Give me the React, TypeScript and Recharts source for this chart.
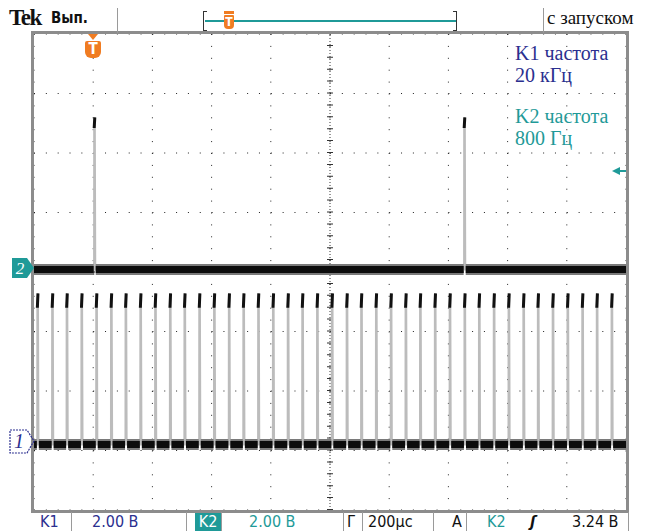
import React from 'react';
import { LineChart, Line, XAxis, YAxis, CartesianGrid, ReferenceLine } from 'recharts';

// time axis in µs (200 µs/div, trigger at 0), vertical axis in divisions
const timeTicks = [-200, 0, 200, 400, 600, 800, 1000, 1200, 1400, 1600, 1800];
const divTicks = [-4, -3, -2, -1, 0, 1, 2, 3, 4];

// K1: 20 kHz pulse train, rising edges (µs)
const ch1Pulses = [
  -189, -139, -90, -40, 10, 60, 109, 159, 209, 259, 308, 358, 408, 458, 507, 557, 607, 657, 706, 756,
  806, 856, 905, 955, 1005, 1055, 1104, 1154, 1204, 1254, 1303, 1353, 1403, 1453, 1502, 1552, 1602, 1652, 1701, 1751,
];
// levels in divisions: [baseline, head start, top]
const ch1Levels = [-2.9, -0.6, -0.36];

// K2: 800 Hz pulses
const ch2Pulses = [3, 1253];
const ch2Levels = [0.04, 2.42, 2.6];

const NAVY = '#2b2f8f';
const TEAL = '#1f9a98';
const ORANGE = '#f07c22';

type Pt = { t: number; v: number | null };

const minorTicks = (from: number, to: number, step: number) => {
  const out: number[] = [];
  for (let x = from; x <= to + 1e-6; x += step) out.push(Math.round(x * 100) / 100);
  return out;
};

const trace = (pulses: number[], lv: number[], w: number): Pt[] => {
  const pts: Pt[] = [{ t: -200, v: lv[0] }];
  pulses.forEach((p) => {
    pts.push({ t: p, v: lv[0] }, { t: p + 0.3, v: lv[1] }, { t: p + w * 0.6, v: lv[2] }, { t: p + w, v: lv[0] });
  });
  pts.push({ t: 1800, v: lv[0] });
  return pts;
};

const band = (pulses: number[], lv: number[], w: number): Pt[] => {
  const pts: Pt[] = [];
  let start = -200;
  pulses.forEach((p) => {
    if (p - 1.5 > start) pts.push({ t: start, v: lv[0] }, { t: p - 1.5, v: lv[0] });
    pts.push({ t: p, v: null });
    start = p + w + 1.5;
  });
  pts.push({ t: start, v: lv[0] }, { t: 1800, v: lv[0] });
  return pts;
};

const heads = (pulses: number[], lv: number[], w: number): Pt[] => {
  const pts: Pt[] = [];
  pulses.forEach((p) => {
    pts.push({ t: p + 0.3, v: lv[1] }, { t: p + w * 0.6, v: lv[2] }, { t: p + w * 0.6 + 0.1, v: null });
  });
  return pts;
};

const abs = (s: React.CSSProperties): React.CSSProperties => ({ position: 'absolute', ...s });
const sans = '"DejaVu Sans Condensed", "DejaVu Sans", sans-serif';
const serif = '"Liberation Serif", serif';

const Sep = ({ x, y, h }: { x: number; y: number; h: number }) => (
  <div style={abs({ left: x, top: y, width: 1, height: h, background: '#9a9a9a' })} />
);

const NoLabel = () => <g />;

export default function App() {
  const xt = minorTicks(-200, 1800, 40);
  const yt = minorTicks(-4, 4, 0.2);
  const line = { dot: false, activeDot: false, isAnimationActive: false, type: 'linear' as const, dataKey: 'v', legendType: 'none' as const };
  const ruler = { mirror: true, axisLine: false, tick: NoLabel, interval: 0 as const, tickLine: { stroke: '#333' } };
  return (
    <div style={abs({ left: 0, top: 0, width: 649, height: 531, background: '#fff', overflow: 'hidden' })}>
      <LineChart width={649} height={531} margin={{ top: 34, left: 34, right: 23, bottom: 21 }}>
        <XAxis {...ruler} dataKey="t" type="number" domain={[-200, 1800]} ticks={timeTicks} allowDataOverflow height={0} tickSize={6} />
        <XAxis {...ruler} xAxisId="rb" dataKey="t" type="number" domain={[-200, 1800]} ticks={xt} height={0} tickSize={4} />
        <XAxis {...ruler} xAxisId="rt" dataKey="t" orientation="top" type="number" domain={[-200, 1800]} ticks={xt} height={0} tickSize={4} />
        <YAxis {...ruler} type="number" domain={[-4, 4]} ticks={divTicks} allowDataOverflow width={0} tickSize={6} />
        <YAxis {...ruler} yAxisId="rl" type="number" domain={[-4, 4]} ticks={yt} width={0} tickSize={4} />
        <YAxis {...ruler} yAxisId="rr" orientation="right" type="number" domain={[-4, 4]} ticks={yt} width={0} tickSize={4} />
        <CartesianGrid vertical={false} stroke="#222" strokeDasharray="1 10.84" />
        <CartesianGrid horizontal={false} stroke="#222" strokeDasharray="1 10.9" />
        <ReferenceLine x={800} stroke="#333" strokeDasharray="1 2" />
        <ReferenceLine x={800} stroke="#333" strokeWidth={6} strokeDasharray="1 10.9" />
        <ReferenceLine y={0} stroke="#333" strokeDasharray="1 2" />
        <ReferenceLine y={0} stroke="#333" strokeWidth={6} strokeDasharray="1 10.84" />

        <Line {...line} data={trace(ch2Pulses, ch2Levels, 4)} stroke="#bcbcbc" strokeWidth={2} />
        <Line {...line} data={band(ch2Pulses, ch2Levels, 4)} stroke="#7a7a7a" strokeWidth={11} />
        <Line {...line} data={band(ch2Pulses, ch2Levels, 4)} stroke="#0c0c0c" strokeWidth={7} />
        <Line {...line} data={heads(ch2Pulses, ch2Levels, 4)} stroke="#111" strokeWidth={3} />

        <Line {...line} data={trace(ch1Pulses, ch1Levels, 4)} stroke="#bcbcbc" strokeWidth={2} />
        <Line {...line} data={band(ch1Pulses, ch1Levels, 4)} stroke="#7a7a7a" strokeWidth={11} />
        <Line {...line} data={band(ch1Pulses, ch1Levels, 4)} stroke="#0c0c0c" strokeWidth={7} />
        <Line {...line} data={heads(ch1Pulses, ch1Levels, 4)} stroke="#111" strokeWidth={3} />
      </LineChart>

      {/* graticule frame */}
      <div style={abs({ left: 31, top: 31, width: 598, height: 482, boxSizing: 'border-box', border: '3px solid #8c8c8c' })} />

      {/* top bar */}
      <div style={abs({ left: 9, top: 5, fontFamily: serif, fontWeight: 700, fontSize: 23, letterSpacing: -1.5, color: '#111' })}>Tek</div>
      <div style={abs({ left: 51, top: 9, fontFamily: sans, fontWeight: 700, fontSize: 15, color: '#111' })}>Вып.</div>
      <Sep x={117} y={8} h={25} />
      <Sep x={543} y={8} h={25} />
      <div style={abs({ left: 203, top: 11, width: 3, height: 18, borderLeft: '1px solid #333', borderTop: '1px solid #333', borderBottom: '1px solid #333' })} />
      <div style={abs({ left: 453, top: 11, width: 3, height: 18, borderRight: '1px solid #333', borderTop: '1px solid #333', borderBottom: '1px solid #333' })} />
      <div style={abs({ left: 205, top: 20, width: 251, height: 2, background: TEAL })} />
      <div style={abs({ left: 224, top: 11, width: 10, height: 3, background: ORANGE })} />
      <div style={abs({ left: 224, top: 15, width: 10, height: 14, background: ORANGE, borderRadius: '1px 1px 4px 4px', color: '#fff', fontFamily: sans, fontWeight: 700, fontSize: 12, lineHeight: '14px', textAlign: 'center' })}>T</div>
      <div style={abs({ left: 547, top: 7, fontFamily: serif, fontSize: 19, color: '#111' })}>с запуском</div>

      {/* trigger marker in graticule */}
      <div style={abs({ left: 88, top: 34, width: 0, height: 0, borderLeft: '5px solid transparent', borderRight: '5px solid transparent', borderTop: `6px solid ${ORANGE}` })} />
      <div style={abs({ left: 85, top: 41, width: 16, height: 17, background: ORANGE, borderRadius: '2px 2px 6px 6px', color: '#fff', fontFamily: sans, fontWeight: 700, fontSize: 15, lineHeight: '17px', textAlign: 'center' })}>T</div>

      {/* measurement readouts */}
      <div style={abs({ left: 515, top: 42, fontFamily: serif, fontSize: 20, lineHeight: '22px', color: NAVY })}>K1 частота<br />20 кГц</div>
      <div style={abs({ left: 515, top: 105, fontFamily: serif, fontSize: 20, lineHeight: '22px', color: TEAL })}>K2 частота<br />800 Гц</div>

      {/* trigger level arrow */}
      <div style={abs({ left: 612, top: 167, width: 0, height: 0, borderTop: '4px solid transparent', borderBottom: '4px solid transparent', borderRight: `8px solid ${TEAL}` })} />
      <div style={abs({ left: 618, top: 170, width: 8, height: 2, background: TEAL })} />

      {/* channel ground markers */}
      <svg style={abs({ left: 10, top: 257 })} width={26} height={22}>
        <polygon points="2,1 17,1 24,11 17,21 2,21" fill={TEAL} />
        <text x={10} y={17} fill="#fff" fontFamily={serif} fontStyle="italic" fontSize={17} textAnchor="middle">2</text>
      </svg>
      <svg style={abs({ left: 8, top: 429 })} width={28} height={25}>
        <polygon points="2,1 19,1 26,12 19,24 2,24" fill="none" stroke={NAVY} strokeWidth={1.2} strokeDasharray="2 1" />
        <text x={11} y={19} fill={NAVY} fontFamily={serif} fontStyle="italic" fontSize={20} textAnchor="middle">1</text>
      </svg>

      {/* bottom bar */}
      <div style={abs({ left: 0, top: 512, width: 649, height: 19, fontFamily: sans, fontSize: 16, lineHeight: '19px' })}>
        <div style={abs({ left: 40, top: 0, color: NAVY })}>K1</div>
        <Sep x={71} y={0} h={19} />
        <div style={abs({ left: 92, top: 0, color: NAVY })}>2.00 В</div>
        <Sep x={186} y={0} h={19} />
        <div style={abs({ left: 195, top: 1, width: 26, height: 18, background: TEAL, color: '#fff', textAlign: 'center', lineHeight: '18px' })}>K2</div>
        <Sep x={221} y={0} h={19} />
        <div style={abs({ left: 249, top: 0, color: TEAL })}>2.00 В</div>
        <Sep x={343} y={0} h={19} />
        <div style={abs({ left: 347, top: 0, color: '#111' })}>Г</div>
        <Sep x={362} y={0} h={19} />
        <div style={abs({ left: 368, top: 0, color: '#111' })}>200μс</div>
        <Sep x={433} y={0} h={19} />
        <div style={abs({ left: 452, top: 0, color: '#111' })}>A</div>
        <Sep x={466} y={0} h={19} />
        <div style={abs({ left: 487, top: 0, color: TEAL })}>K2</div>
        <div style={abs({ left: 530, top: 0, color: '#111', fontStyle: 'italic', fontWeight: 700 })}>ʃ</div>
        <div style={abs({ left: 572, top: 0, color: '#111' })}>3.24 В</div>
        <Sep x={628} y={0} h={19} />
      </div>
    </div>
  );
}
